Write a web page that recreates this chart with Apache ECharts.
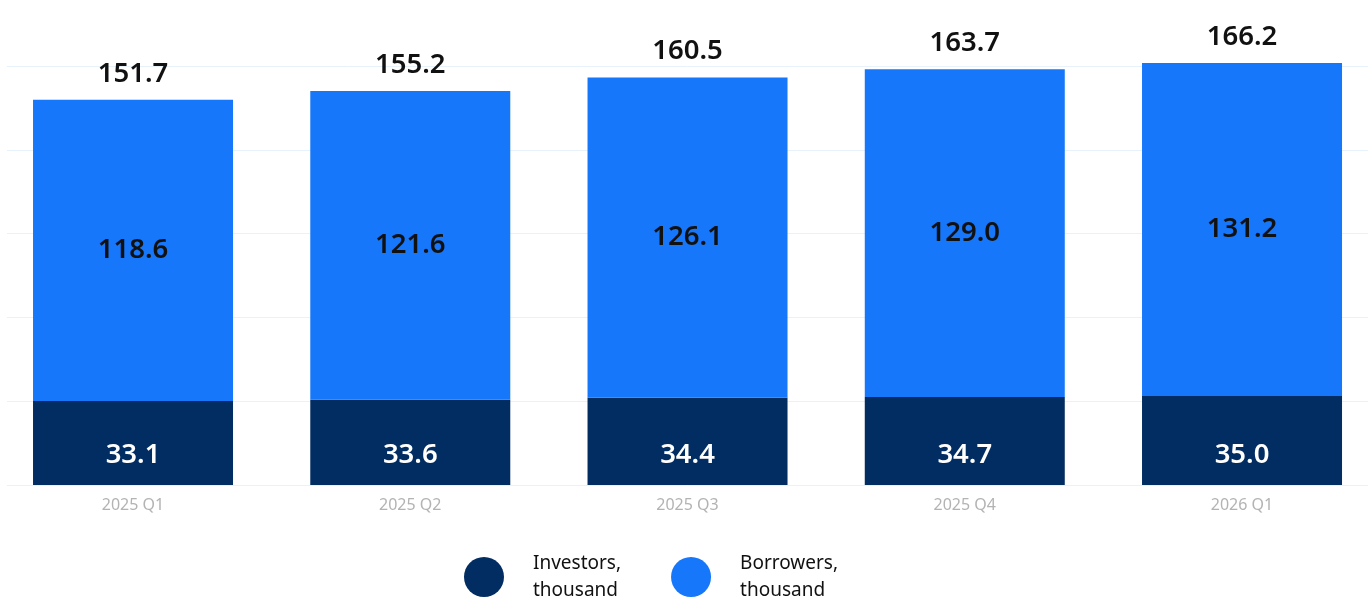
<!DOCTYPE html>
<html>
<head>
<meta charset="utf-8">
<script src="https://cdn.jsdelivr.net/npm/echarts@6/dist/echarts.min.js"></script>
<style>
html,body{margin:0;padding:0;background:#fff;}
#chart{width:1372px;height:600px;}
</style>
</head>
<body>
<div id="chart"></div>
<script>
const categories = ['2025 Q1', '2025 Q2', '2025 Q3', '2025 Q4', '2026 Q1'];
const investors = [33.1, 33.6, 34.4, 34.7, 35.0];
const borrowers = [118.6, 121.6, 126.1, 129.0, 131.2];
const totals = [151.7, 155.2, 160.5, 163.7, 166.2];
const seriesNames = ['Investors,\nthousand', 'Borrowers,\nthousand'];

const FONT = '"Noto Sans", "Open Sans", sans-serif';
const chart = echarts.init(document.getElementById('chart'));
chart.setOption({
  animation: false,
  backgroundColor: '#ffffff',
  grid: [
    { left: -5.6, width: 1386.25, top: 66, bottom: 115, outerBoundsMode: 'none', containLabel: false },
    { left: 7, right: 4, top: 66, bottom: 115, outerBoundsMode: 'none', containLabel: false }
  ],
  xAxis: [
    {
      type: 'category', gridIndex: 0, data: categories,
      axisLine: { show: false }, axisTick: { show: false },
      axisLabel: { color: '#b3b3b3', fontSize: 16, fontFamily: FONT, margin: 12 }
    },
    {
      type: 'category', gridIndex: 1, data: categories, show: false
    }
  ],
  yAxis: [
    { type: 'value', gridIndex: 0, min: 0, max: 165, interval: 33, show: false, splitLine: { show: false } },
    {
      type: 'value', gridIndex: 1, min: 0, max: 165, interval: 33,
      axisLine: { show: false }, axisTick: { show: false }, axisLabel: { show: false },
      splitLine: { show: true, lineStyle: { color: '#e8f2fb', width: 1 } }
    }
  ],
  legend: {
    data: seriesNames,
    left: 459, top: 545,
    icon: 'circle', itemWidth: 40, itemHeight: 40, itemGap: 50,
    textStyle: { fontFamily: FONT, fontSize: 19, color: '#111', lineHeight: 27, padding: [0, 0, 0, 24] }
  },
  series: [
    {
      name: seriesNames[0], type: 'bar', stack: 'total', barWidth: 200, clip: false,
      data: investors,
      itemStyle: { color: '#022d62' },
      label: {
        show: true, position: 'insideBottom', distance: 16,
        color: '#ffffff', fontSize: 27.5, fontWeight: 600, fontFamily: FONT,
        formatter: p => p.value.toFixed(1)
      }
    },
    {
      name: seriesNames[1], type: 'bar', stack: 'total', barWidth: 200, clip: false,
      data: borrowers,
      itemStyle: { color: '#1677fa' },
      label: {
        show: true, position: 'inside',
        color: '#111111', fontSize: 27.5, fontWeight: 600, fontFamily: FONT,
        formatter: p => p.value.toFixed(1)
      }
    },
    {
      name: 'total', type: 'bar', stack: 'total', barWidth: 200, clip: false,
      data: totals.map(() => 0),
      itemStyle: { color: 'transparent' },
      label: {
        show: true, position: 'top', distance: 12,
        color: '#111111', fontSize: 27.5, fontWeight: 600, fontFamily: FONT,
        formatter: p => totals[p.dataIndex].toFixed(1)
      }
    }
  ]
});
</script>
</body>
</html>
